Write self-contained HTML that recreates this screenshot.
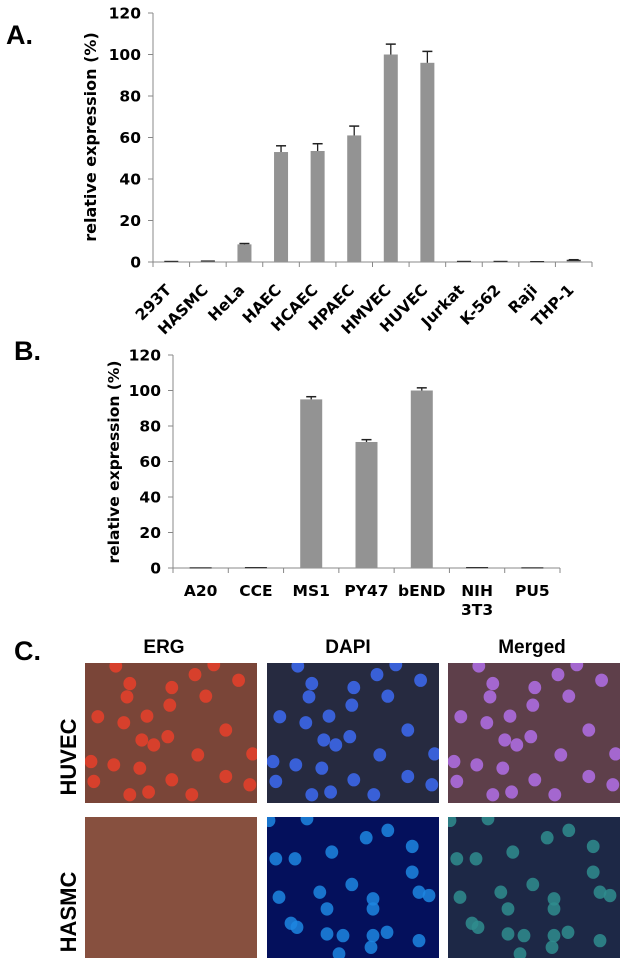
<!DOCTYPE html>
<html><head><meta charset="utf-8"><style>
body{margin:0;background:#fff;width:626px;height:968px;overflow:hidden;position:relative}
svg{position:absolute;left:0;top:0}
text{font-family:"DejaVu Sans",sans-serif;font-weight:bold;fill:#000}
.ar{font-family:"Liberation Sans",sans-serif}
</style></head><body>
<svg id="fig" width="626" height="968"></svg>
<script>
const catsA=["293T","HASMC","HeLa","HAEC","HCAEC","HPAEC","HMVEC","HUVEC","Jurkat","K-562","Raji","THP-1"];
const valsA=[0.3,0.5,8.5,53,53.5,61,100,96,0.3,0.3,0.2,0.8];
const errA=[0,0,0.4,3,3.5,4.5,5,5.5,0,0,0,0.3];
const catsB=["A20","CCE","MS1","PY47","bEND","NIH|3T3","PU5"];
const valsB=[0.1,0.2,95,71,100,0.2,0.1];
const errB=[0,0,1.5,1.3,1.5,0,0];
const ticks=[0,20,40,60,80,100,120];
const NS="http://www.w3.org/2000/svg";
const svg=document.getElementById('fig');
function mk(tag,attrs,parent,txt){const e=document.createElementNS(NS,tag);for(const k in attrs)e.setAttribute(k,attrs[k]);if(txt!==undefined)e.textContent=txt;(parent||svg).appendChild(e);return e;}
function chart(cfg){
  const g=mk('g',{});
  
  
  const y=v=>cfg.y0-(cfg.y0-cfg.y1)*v/120;
  const bw=(cfg.x1-cfg.x0)/cfg.cats.length;
  const ax=mk('line',{x1:cfg.x0,y1:y(120),x2:cfg.x0,y2:cfg.y0,stroke:'#888','stroke-width':1},g);
  
  const xa=mk('line',{x1:cfg.x0,y1:cfg.y0,x2:cfg.x1,y2:cfg.y0,stroke:'#888','stroke-width':1},g);
  
  ticks.forEach(t=>{
    mk('line',{x1:cfg.x0-5,x2:cfg.x0,y1:y(t),y2:y(t),stroke:'#888'},g);
    const tl=mk('text',{x:cfg.x0-12,y:y(t)+5.5,'text-anchor':'end','font-size':15.5},g,String(t));
    
  });
  for(let i=0;i<=cfg.cats.length;i++){const xx=cfg.x0+i*bw;mk('line',{x1:xx,x2:xx,y1:cfg.y0,y2:cfg.y0+5,stroke:'#888'},g);}
  cfg.cats.forEach((c,i)=>{
    const cx=cfg.x0+(i+0.5)*bw, v=cfg.vals[i], e=cfg.err[i];
    const b=mk('rect',{x:cx-cfg.barW/2,y:y(v),width:cfg.barW,height:Math.max(cfg.y0-y(v),0.8),fill:'#939393'},g);
    
    
    if(v<2){mk('line',{x1:cx-cfg.barW/2,x2:cx+cfg.barW/2,y1:y(v),y2:y(v),stroke:'#333','stroke-width':1.2},g);}
    if(e>0){const ty=y(v+e);
      mk('line',{x1:cx,x2:cx,y1:y(v),y2:ty,stroke:'#222','stroke-width':1.3},g);
      mk('line',{x1:cx-5,x2:cx+5,y1:ty,y2:ty,stroke:'#222','stroke-width':1.5},g);}
    let lab;
    if(cfg.rot){
      lab=mk('text',{x:0,y:0,'text-anchor':'end','font-size':15.5,transform:`translate(${cx+1},${cfg.y0+29}) rotate(-45)`},g,c);
    } else {
      const parts=c.split('|');
      lab=mk('text',{x:cx,y:cfg.y0+28,'text-anchor':'middle','font-size':15.5},g);
      parts.forEach((p,k)=>mk('tspan',{x:cx,dy:k?19:0},lab,p));
    }
    
  });
  const yt=mk('text',{x:0,y:0,'text-anchor':'middle','font-size':cfg.tfs,transform:`translate(${cfg.tx},${cfg.ty}) rotate(-90)`},g,'relative expression (%)');
  
}
chart({name:'chart-a',cats:catsA,vals:valsA,err:errA,x0:153,x1:592,y0:262,y1:13,barW:14,rot:true,tx:96,ty:137,tfs:16});
chart({name:'chart-b',cats:catsB,vals:valsB,err:errB,x0:173,x1:560,y0:568,y1:355,barW:22,rot:false,tx:119,ty:462,tfs:15.5});
[['A.',6,44,'panel-label-a'],['B.',14,360,'panel-label-b'],['C.',14,660,'panel-label-c']].forEach(p=>{
  const t=mk('text',{x:p[1],y:p[2],'font-size':27,class:'ar'},svg,p[0]);
  
});
const nucA=[[112,62],[105,102],[217,74],[302,100],[384,52],[275,35],[212,127],[32,162],[97,180],[155,160],[352,202],[142,232],[172,247],[207,222],[15,297],[72,307],[137,317],[282,277],[22,357],[217,352],[352,342],[412,367],[112,397],[159,389],[267,397],[419,274],[77,9],[322,5]];
const nucB=[[302,40],[248,62],[363,88],[162,105],[22,125],[70,125],[363,165],[212,202],[132,225],[30,240],[265,245],[265,275],[150,275],[60,318],[75,330],[150,350],[190,355],[265,355],[300,345],[380,370],[180,410],[260,390],[5,10],[100,5],[380,225],[405,235]];
const cols=[85,267,448], rows=[663,817];
const panels=[
 [0,0,'#7a4538','#e8402a',nucA,'erg-huvec'],[1,0,'#262a40','#3d6af2',nucA,'dapi-huvec'],[2,0,'#5e3f4a','#b06ee6',nucA,'merged-huvec'],
 [0,1,'#87503f',null,[],'erg-hasmc'],[1,1,'#04105c','#1d86e0',nucB,'dapi-hasmc'],[2,1,'#1d2846','#2f8c8e',nucB,'merged-hasmc']];
panels.forEach(p=>{
  const s=mk('svg',{x:cols[p[0]],y:rows[p[1]],width:172,height:p[1]?141:140,viewBox:'0 0 430 422',preserveAspectRatio:'none'});
  
  mk('rect',{x:0,y:0,width:430,height:422,fill:p[2]},s);
  p[4].forEach(n=>mk('ellipse',{cx:n[0],cy:n[1],rx:16,ry:20,fill:p[3],opacity:0.85},s));
});
[['ERG',164,'header-erg'],['DAPI',348,'header-dapi'],['Merged',532,'header-merged']].forEach(h=>{
  const t=mk('text',{x:h[1],y:653,'text-anchor':'middle','font-size':19,class:'ar'},svg,h[0]);
  
});
[['HUVEC',757,'row-label-huvec'],['HASMC',912,'row-label-hasmc']].forEach(r=>{
  const t=mk('text',{x:0,y:0,'text-anchor':'middle','font-size':22,class:'ar',transform:`translate(76,${r[1]}) rotate(-90)`},svg,r[0]);
  
});
</script>
</body></html>
